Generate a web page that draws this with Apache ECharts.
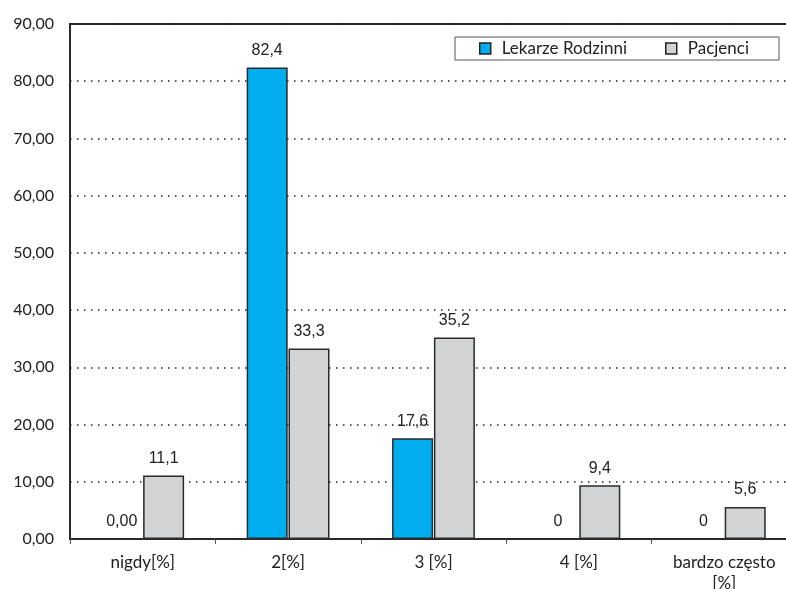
<!DOCTYPE html>
<html>
<head>
<meta charset="utf-8">
<script src="https://cdn.jsdelivr.net/npm/echarts@6/dist/echarts.min.js"></script>
<style>
  html, body { margin: 0; padding: 0; background: #fff; }
  #chart { width: 786px; height: 589px; }
</style>
</head>
<body>
<div id="chart"></div>
<script>
// Categories along the x axis
const categories = ['nigdy[%]', '2[%]', '3 [%]', '4 [%]', 'bardzo często\n[%]'];
// Series values (percent)
const lekarzeValues = [0, 82.4, 17.6, 0, 0];
const pacjenciValues = [11.1, 33.3, 35.2, 9.4, 5.6];
// Value label text as printed above each bar
const lekarzeLabels = ['0,00', '82,4', '17,6', '0', '0'];
const pacjenciLabels = ['11,1', '33,3', '35,2', '9,4', '5,6'];
// Y axis range
const yMin = 0, yMax = 90, yStep = 10;

const chart = echarts.init(document.getElementById('chart'), null, { renderer: 'canvas' });

const axisFont = 'Lato, "Open Sans", sans-serif';
const valueFont = '"Liberation Sans", Arial, sans-serif';

chart.setOption({
  animation: false,
  backgroundColor: '#ffffff',
  grid: {
    // the plot runs slightly past the right edge of the page
    left: 70, top: 24, width: 727, height: 515,
    containLabel: false,
    outerBoundsMode: 'none',
    show: true, borderColor: '#2a2a2a', borderWidth: 2, backgroundColor: 'transparent'
  },
  legend: {
    right: 7, top: 37,
    icon: 'rect',
    itemWidth: 11, itemHeight: 11, itemGap: 38,
    padding: [3, 30, 3, 24],
    borderColor: '#555', borderWidth: 1,
    textStyle: { fontFamily: axisFont, fontSize: 17, color: '#222', padding: [0, 0, 0, 6] },
    itemStyle: { borderColor: '#222', borderWidth: 1.5 },
    data: ['Lekarze Rodzinni', 'Pacjenci']
  },
  xAxis: {
    type: 'category',
    data: categories,
    axisLine: { lineStyle: { color: '#2a2a2a', width: 2 } },
    axisTick: { show: true, length: 5, lineStyle: { color: '#555', width: 1 } },
    axisLabel: { fontFamily: axisFont, fontSize: 17, color: '#222', margin: 13, lineHeight: 21 }
  },
  yAxis: {
    type: 'value',
    min: yMin, max: yMax, interval: yStep,
    axisLine: { show: true, lineStyle: { color: '#2a2a2a', width: 2 } },
    axisTick: { show: false },
    axisLabel: {
      fontFamily: axisFont, fontSize: 16, color: '#222', margin: 16,
      formatter: v => v.toFixed(2).replace('.', ',')
    },
    splitLine: { show: true, lineStyle: { color: '#222', width: 1.5, type: [1.5, 5.5] } }
  },
  series: [
    {
      name: 'Lekarze Rodzinni',
      type: 'bar',
      data: lekarzeValues,
      barWidth: 41,
      barGap: '2%',
      itemStyle: { color: '#00aeef', borderColor: '#2a2a2a', borderWidth: 1.5 },
      label: {
        show: true, position: 'top', distance: 9,
        fontFamily: valueFont, fontSize: 16, color: '#222',
        formatter: p => lekarzeLabels[p.dataIndex]
      }
    },
    {
      name: 'Pacjenci',
      type: 'bar',
      data: pacjenciValues,
      barWidth: 41,
      itemStyle: { color: '#d2d3d5', borderColor: '#2a2a2a', borderWidth: 1.5 },
      label: {
        show: true, position: 'top', distance: 9,
        fontFamily: valueFont, fontSize: 16, color: '#222',
        formatter: p => pacjenciLabels[p.dataIndex]
      }
    }
  ]
});
</script>
</body>
</html>
